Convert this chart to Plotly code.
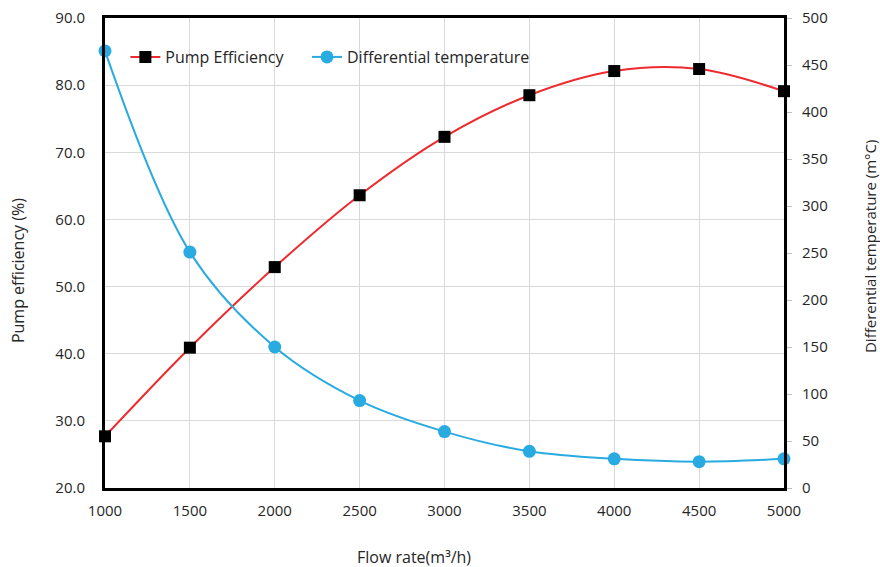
import plotly.graph_objects as go

flow_rate = [1000, 1500, 2000, 2500, 3000, 3500, 4000, 4500, 5000]
pump_efficiency = [27.7, 40.9, 52.9, 63.6, 72.3, 78.5, 82.1, 82.4, 79.1]
diff_temperature = [465, 251, 150, 93, 60, 39, 31, 28, 31]

left_ticks = [20, 30, 40, 50, 60, 70, 80, 90]
right_ticks = [0, 50, 100, 150, 200, 250, 300, 350, 400, 450, 500]
x_ticks = [1000, 1500, 2000, 2500, 3000, 3500, 4000, 4500, 5000]

FONT = "Open Sans, Noto Sans, sans-serif"
RED = "#EE2A2E"
BLUE = "#29ABE2"
TXT = "#262626"

fig = go.Figure()
fig.add_trace(go.Scatter(
    x=flow_rate, y=pump_efficiency, name="Pump Efficiency",
    mode="lines+markers", line=dict(color=RED, width=2, shape="spline", smoothing=1.0),
    marker=dict(symbol="square", size=12, color="black"), yaxis="y", cliponaxis=False,
    legend="legend"))
fig.add_trace(go.Scatter(
    x=flow_rate, y=diff_temperature, name="Differential temperature",
    mode="lines+markers", line=dict(color=BLUE, width=2, shape="spline", smoothing=1.0),
    marker=dict(symbol="circle", size=13, color=BLUE), yaxis="y2", cliponaxis=False,
    legend="legend2"))

leg_common = dict(orientation="h", yanchor="middle", xanchor="left", y=0.917,
                  bgcolor="rgba(0,0,0,0)", font=dict(size=16, color=TXT), itemwidth=30)

fig.update_layout(
    width=880, height=567,
    margin=dict(l=105, r=96, t=18, b=79, autoexpand=False),
    paper_bgcolor="white", plot_bgcolor="white",
    font=dict(family=FONT, size=15, color=TXT),
    showlegend=True,
    legend=dict(x=0.03, **leg_common),
    legend2=dict(x=0.2975, **leg_common),
    xaxis=dict(range=[1000, 5000], tickvals=x_ticks, ticktext=[str(v) for v in x_ticks],
               showgrid=True, gridcolor="#D9D9D9", gridwidth=1,
               showline=True, linecolor="black", linewidth=3, mirror=True,
               ticks="", ticklen=0, zeroline=False, ticklabelstandoff=7),
    yaxis=dict(range=[20, 90], tickvals=left_ticks, ticktext=[f"{v:.1f}" for v in left_ticks],
               showgrid=True, gridcolor="#D9D9D9", gridwidth=1,
               showline=True, linecolor="black", linewidth=3,
               ticks="", zeroline=False, ticklabelstandoff=14),
    yaxis2=dict(range=[0, 500], tickvals=right_ticks, overlaying="y", side="right",
                showgrid=False, showline=True, linecolor="black", linewidth=3,
                ticks="outside", ticklen=5, tickcolor="#BFBFBF", zeroline=False,
                ticklabelstandoff=7),
    annotations=[
        dict(text="Flow rate(m³/h)", xref="paper", yref="paper", x=0.455, y=-0.1468,
             xanchor="center", yanchor="middle", showarrow=False,
             font=dict(size=16, color=TXT)),
        dict(text="Pump efficiency (%)", xref="paper", yref="paper", x=-0.128, y=0.4617,
             xanchor="center", yanchor="middle", showarrow=False, textangle=-90,
             font=dict(size=16, color=TXT)),
        dict(text="Differential temperature (m°C)", xref="paper", yref="paper", x=1.1267, y=0.5128,
             xanchor="center", yanchor="middle", showarrow=False, textangle=-90,
             font=dict(size=15, color=TXT)),
    ],
)

fig.write_html("out.html")
